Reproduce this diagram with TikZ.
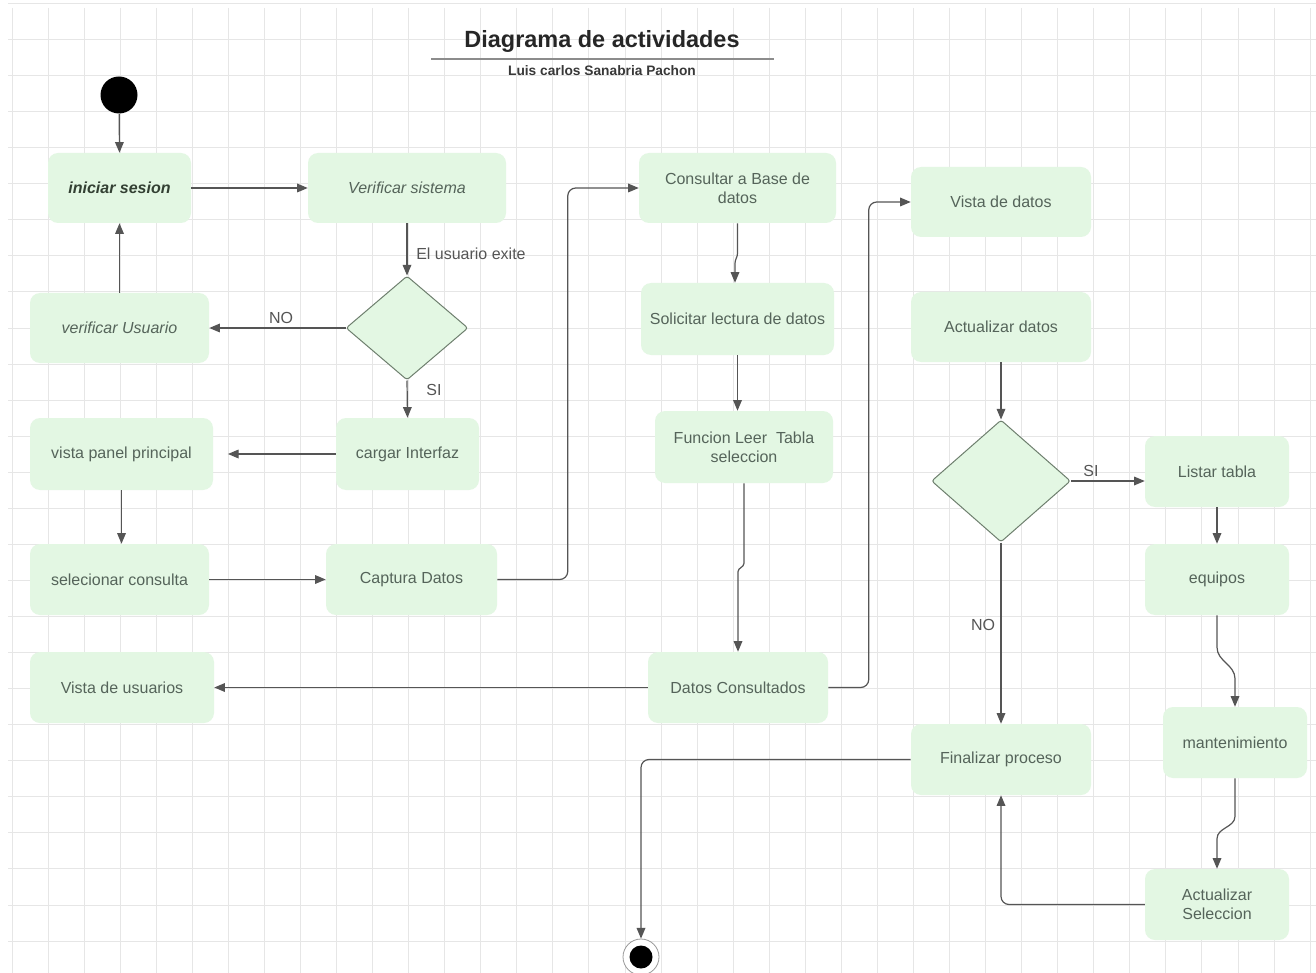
\documentclass[tikz,border=0pt]{standalone}
\usepackage{fontspec}
\setmainfont{Liberation Sans}
\usetikzlibrary{shapes.geometric,arrows.meta,calc}
\definecolor{boxfill}{HTML}{E3F7E3}
\definecolor{boxtext}{HTML}{55645A}
\definecolor{boxdark}{HTML}{334033}
\definecolor{wire}{HTML}{555555}
\definecolor{gridc}{HTML}{E6E6E6}
\definecolor{dmdline}{HTML}{6E7F6E}
\def\px{0.75pt}

\begin{document}
\begin{tikzpicture}[x=0.75pt,y=-0.75pt,
  activity/.style={rectangle, rounded corners=7.5pt, fill=boxfill, text=boxtext,
    font=\fontsize{12}{14.4}\selectfont, align=center, inner sep=0pt},
  decision/.style={diamond, fill=boxfill, draw=dmdline, line width=0.75pt,
    rounded corners=2pt, inner sep=0pt},
  arr/.style={draw=wire, line width=0.9pt, -{Triangle[length=8pt,width=6.5pt]}},
  lbl/.style={text=wire, font=\fontsize{12}{14.4}\selectfont, inner sep=0pt}]

% page and background grid
\fill[white] (0,0) rectangle (1316,973);
\useasboundingbox (0,0) rectangle (1316,973);
\foreach \i in {0,...,36}
  \draw[gridc, line width=0.75pt] ({12+36.06*\i},8) -- ({12+36.06*\i},973);
\foreach \j in {0,...,26}
  \draw[gridc, line width=0.75pt] (8,{3.5+36.06*\j}) -- (1316,{3.5+36.06*\j});

% title block
\node[font=\bfseries\fontsize{17.6}{20}\selectfont, text=black!85] (title) at (602,41) {Diagrama de actividades};
\coordinate (ulA) at (431,59);
\coordinate (ulB) at (774,59);
\draw[black!45, line width=0.9pt] (ulA) -- (ulB);
\node[font=\bfseries\fontsize{10.3}{12}\selectfont, text=black!78] (sub) at (602,71) {Luis carlos Sanabria Pachon};

% initial and final states
\node[circle, fill=black, minimum size=37*\px, inner sep=0pt] (start) at (119,95) {};
\node[circle, draw=black!40, fill=white, line width=0.6pt, minimum size=36*\px, inner sep=0pt] (endn) at (641,957) {};
\node[circle, fill=black, minimum size=23*\px, inner sep=0pt] (endc) at (endn) {};

% activities
\node[activity, minimum width=143*\px, minimum height=70*\px, text=boxdark, font=\bfseries\itshape\fontsize{12}{14.4}\selectfont] (ini) at (119.5,188) {iniciar sesion};
\node[activity, minimum width=198*\px, minimum height=70*\px, font=\itshape\fontsize{12}{14.4}\selectfont] (ver) at (407,188) {Verificar sistema};
\node[activity, minimum width=197*\px, minimum height=70*\px] (cons) at (737.5,188) {Consultar a Base de\\datos};
\node[activity, minimum width=180*\px, minimum height=70*\px] (vdat) at (1001,202) {Vista de datos};
\node[activity, minimum width=179*\px, minimum height=70*\px, font=\itshape\fontsize{12}{14.4}\selectfont] (vusr) at (119.5,328) {verificar Usuario};
\node[activity, minimum width=193*\px, minimum height=72*\px] (sol) at (737.5,319) {Solicitar lectura de datos};
\node[activity, minimum width=180*\px, minimum height=70*\px] (actd) at (1001,327) {Actualizar datos};
\node[activity, minimum width=183*\px, minimum height=72*\px] (vpan) at (121.5,454) {vista panel principal};
\node[activity, minimum width=143*\px, minimum height=72*\px] (carg) at (407.5,454) {cargar Interfaz};
\node[activity, minimum width=178*\px, minimum height=72*\px] (func) at (744,447) {Funcion Leer\ \ Tabla\\seleccion};
\node[activity, minimum width=144*\px, minimum height=71*\px] (list) at (1217,471.5) {Listar tabla};
\node[activity, minimum width=179*\px, minimum height=71*\px] (selc) at (119.5,579.5) {selecionar consulta};
\node[activity, minimum width=171*\px, minimum height=71*\px] (capt) at (411.5,579.5) {Captura Datos};
\node[activity, minimum width=144*\px, minimum height=71*\px] (equi) at (1217,579.5) {equipos};
\node[activity, minimum width=184*\px, minimum height=71*\px] (vusu) at (122,687.5) {Vista de usuarios};
\node[activity, minimum width=180*\px, minimum height=71*\px] (dcon) at (738,687.5) {Datos Consultados};
\node[activity, minimum width=144*\px, minimum height=71*\px] (mant) at (1235,742.5) {mantenimiento};
\node[activity, minimum width=180*\px, minimum height=71*\px] (fin) at (1001,759.5) {Finalizar proceso};
\node[activity, minimum width=144*\px, minimum height=71*\px] (acts) at (1217,904.5) {Actualizar\\Seleccion};

% decisions
\node[decision, minimum width=122*\px, minimum height=104*\px] (d1) at (407,328) {};
\node[decision, minimum width=139*\px, minimum height=122*\px] (d2) at (1001,481) {};

% control flow
\draw[arr] (start) -- (ini.north);
\draw[arr] (ini.east) -- (ver.west);
\draw[arr] (ver.south) -- (d1.north);
\node[lbl, anchor=west] (lexist) at (416,254) {El usuario exite};
\draw[arr] (d1.west) -- (vusr.east);
\node[lbl] (lno1) at (281,318) {NO};
\draw[arr] (vusr.north) -- (ini.south);
\draw[arr] (d1.south) -- (carg.north);
\node[lbl] (lsi1) at (434,390) {SI};
\draw[arr, shorten >=11pt] (carg.west) -- (vpan.east);
\draw[arr] (vpan.south) -- (vpan.south |- selc.north);
\draw[arr] (selc.east) -- (capt.west);
\draw[arr, rounded corners=6pt] (capt.east) -| ($(cons.west)+(-71,0)$) -- (cons.west);
\draw[arr] (cons.south) -- ++(0,30) to[out=-90,in=90] ++(-2.5,10) -- ($(sol.north)+(-2.5,0)$);
\draw[arr] (sol.south) -- (sol.south |- func.north);
\draw[arr] (func.south) -- ++(0,80) to[out=-90,in=90] ($(dcon.north)+(0,-80)$) -- (dcon.north);
\draw[arr] (dcon.west) -- (vusu.east);
\draw[arr, rounded corners=6pt] (dcon.east) -| ($(vdat.west)+(-42,0)$) -- (vdat.west);
\draw[arr] (actd.south) -- (d2.north);
\draw[arr] (d2.east) -- (d2.east -| list.west);
\node[lbl] (lsi2) at (1091,471) {SI};
\draw[arr] (d2.south) -- (fin.north);
\node[lbl] (lno2) at (983,625) {NO};
\draw[arr] (list.south) -- (equi.north);
\draw[arr] (equi.south) -- ++(0,32) to[out=-90,in=90] ($(mant.north)+(0,-28)$) -- (mant.north);
\draw[arr] (mant.south) -- ++(0,38) to[out=-90,in=90] ($(acts.north)+(0,-30)$) -- (acts.north);
\draw[arr, rounded corners=6pt] (acts.west) -| (fin.south);
\draw[arr, rounded corners=6pt] (fin.west) -| (endn.north);
\end{tikzpicture}
\end{document}
